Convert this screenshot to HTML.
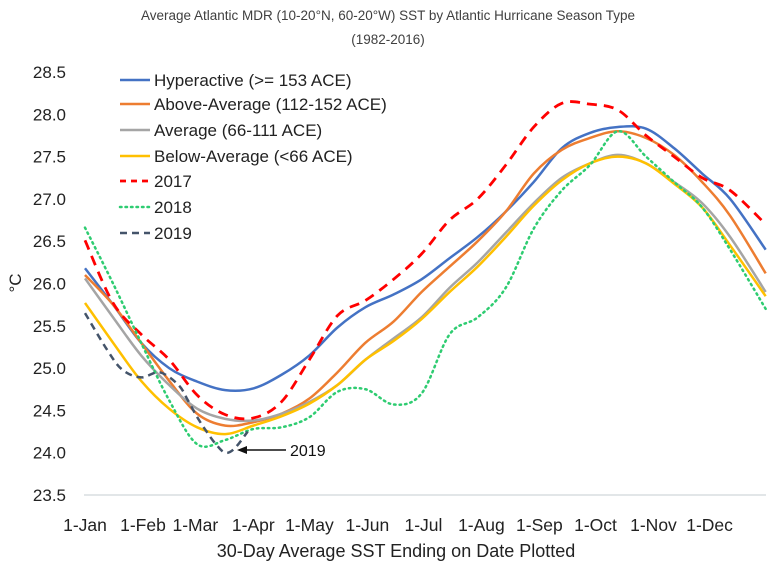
<!DOCTYPE html>
<html><head><meta charset="utf-8"><style>
body{margin:0;background:#fff;}
svg{display:block;font-family:"Liberation Sans",Arial,sans-serif;}
</style></head><body>
<svg id="chart" width="770" height="567" viewBox="0 0 770 567" xmlns="http://www.w3.org/2000/svg">
<text x="388" y="20" text-anchor="middle" font-size="13.5" fill="#404040">Average Atlantic MDR (10-20°N, 60-20°W) SST by Atlantic Hurricane Season Type</text>
<text x="388" y="44" text-anchor="middle" font-size="13.5" fill="#404040">(1982-2016)</text>
<text transform="translate(21,283) rotate(-90)" text-anchor="middle" font-size="17" fill="#222">°C</text>
<text x="396" y="557" text-anchor="middle" font-size="18" fill="#222">30-Day Average SST Ending on Date Plotted</text>
<line x1="84" y1="495" x2="766" y2="495" stroke="#d9dde0" stroke-width="1.5"/>
<g id="yticks"></g>
<g id="xticks"></g>
<g id="series"></g>
<g id="legend"></g>
<g>
<line x1="286" y1="450" x2="244" y2="450" stroke="#111" stroke-width="1.5"/>
<polygon points="237,450 247,446 247,454" fill="#111"/>
<text x="290" y="456" font-size="16" fill="#111">2019</text>
</g>
</svg>
<script>
const yTicks = [23.5,24.0,24.5,25.0,25.5,26.0,26.5,27.0,27.5,28.0,28.5];
const monthLabels = ["1-Jan","1-Feb","1-Mar","1-Apr","1-May","1-Jun","1-Jul","1-Aug","1-Sep","1-Oct","1-Nov","1-Dec"];
const monthDays = [0,31,59,90,120,151,181,212,243,273,304,334];
const days = [0,15,30,45,60,75,90,105,120,135,150,165,180,195,210,225,240,255,270,285,300,315,330,345,364];
const hyperactive = [26.18,25.75,25.3,25.0,24.84,24.74,24.76,24.92,25.15,25.48,25.72,25.87,26.05,26.3,26.55,26.85,27.2,27.6,27.78,27.85,27.83,27.6,27.3,27.0,26.4];
const aboveAvg = [26.1,25.75,25.3,24.85,24.46,24.32,24.36,24.46,24.64,24.95,25.3,25.55,25.9,26.2,26.5,26.85,27.3,27.58,27.72,27.8,27.72,27.52,27.2,26.8,26.12];
const average = [26.06,25.6,25.15,24.8,24.52,24.4,24.38,24.46,24.6,24.8,25.1,25.35,25.6,25.95,26.25,26.6,26.95,27.25,27.42,27.52,27.42,27.2,26.95,26.55,25.9];
const belowAvg = [25.77,25.3,24.85,24.52,24.3,24.22,24.32,24.43,24.58,24.8,25.1,25.32,25.58,25.9,26.2,26.55,26.92,27.22,27.42,27.5,27.42,27.18,26.9,26.45,25.85];
const y2017 = [26.51,25.77,25.4,25.1,24.68,24.45,24.41,24.6,25.1,25.62,25.8,26.05,26.35,26.75,27.0,27.4,27.85,28.13,28.12,28.05,27.75,27.5,27.25,27.1,26.7];
const y2018 = [26.66,26.0,25.3,24.62,24.1,24.15,24.28,24.3,24.42,24.72,24.75,24.57,24.7,25.4,25.6,25.95,26.65,27.1,27.4,27.8,27.5,27.2,26.9,26.4,25.7];
const days2019 = [0,12,20,30,40,50,55,60,65,70,75,80,87];
const y2019 = [25.65,25.21,24.98,24.89,24.95,24.8,24.62,24.42,24.25,24.1,24.0,24.05,24.25];

const NS="http://www.w3.org/2000/svg";
const xS = d => 85 + d*1.87;
const yS = v => 495 - (v-23.5)*84.6;
function mk(tag, parent){const e=document.createElementNS(NS,tag);parent.appendChild(e);return e;}

const yg=document.getElementById('yticks');
yTicks.forEach(v=>{const t=mk('text',yg);


t.setAttribute('x',66);t.setAttribute('y',yS(v)+6);t.setAttribute('text-anchor','end');t.setAttribute('font-size','17');t.setAttribute('fill','#222');t.textContent=v.toFixed(1);});
const xg=document.getElementById('xticks');
monthLabels.forEach((m,i)=>{const t=mk('text',xg);


t.setAttribute('x',xS(monthDays[i]));t.setAttribute('y',531);t.setAttribute('text-anchor','middle');t.setAttribute('font-size','17.5');t.setAttribute('fill','#222');t.textContent=m;});

function pathD(ds,vs){const p=ds.map((d,i)=>[xS(d),yS(vs[i])]);let s='M'+p[0][0]+','+p[0][1];
for(let i=0;i<p.length-1;i++){const p0=p[i-1]||p[i],p1=p[i],p2=p[i+1],p3=p[i+2]||p2;
const c1=[p1[0]+(p2[0]-p0[0])/6,p1[1]+(p2[1]-p0[1])/6],c2=[p2[0]-(p3[0]-p1[0])/6,p2[1]-(p3[1]-p1[1])/6];
s+=' C'+c1+' '+c2+' '+p2;}return s;}

const sg=document.getElementById('series');
const specs=[
 {n:'line-hyperactive',d:days,v:hyperactive,c:'#4472c4',w:2.5,da:'',label:'Hyperactive (>= 153 ACE)'},
 {n:'line-above-average',d:days,v:aboveAvg,c:'#ed7d31',w:2.5,da:'',label:'Above-Average (112-152 ACE)'},
 {n:'line-average',d:days,v:average,c:'#a5a5a5',w:2.5,da:'',label:'Average (66-111 ACE)'},
 {n:'line-below-average',d:days,v:belowAvg,c:'#ffc000',w:2.5,da:'',label:'Below-Average (<66 ACE)'},
 {n:'line-2017',d:days,v:y2017,c:'#ff0000',w:2.8,da:'10,7',label:'2017'},
 {n:'line-2018',d:days,v:y2018,c:'#2ecc71',w:2.5,da:'1.5,4',label:'2018'},
 {n:'line-2019',d:days2019,v:y2019,c:'#44546a',w:2.5,da:'7,5',label:'2019'}];
specs.forEach(s=>{const p=mk('path',sg);


p.setAttribute('d',pathD(s.d,s.v));p.setAttribute('fill','none');p.setAttribute('stroke',s.c);p.setAttribute('stroke-width',s.w);
if(s.da){p.setAttribute('stroke-dasharray',s.da);} if(s.n==='line-2018')p.setAttribute('stroke-linecap','round');});

const lg=document.getElementById('legend');
const rows=[80,104,130,156,181,207,233];
specs.forEach((s,i)=>{const g=mk('g',lg);


const l=mk('line',g);l.setAttribute('x1',120);l.setAttribute('x2',150);l.setAttribute('y1',rows[i]);l.setAttribute('y2',rows[i]);
l.setAttribute('stroke',s.c);l.setAttribute('stroke-width',s.w);if(s.da)l.setAttribute('stroke-dasharray',s.da==='10,7'?'6,5':s.da);
if(s.n==='line-2018')l.setAttribute('stroke-linecap','round');
const t=mk('text',g);t.setAttribute('x',154);t.setAttribute('y',rows[i]+6);t.setAttribute('font-size','17');t.setAttribute('fill','#222');t.textContent=s.label;});
</script>
</body></html>
